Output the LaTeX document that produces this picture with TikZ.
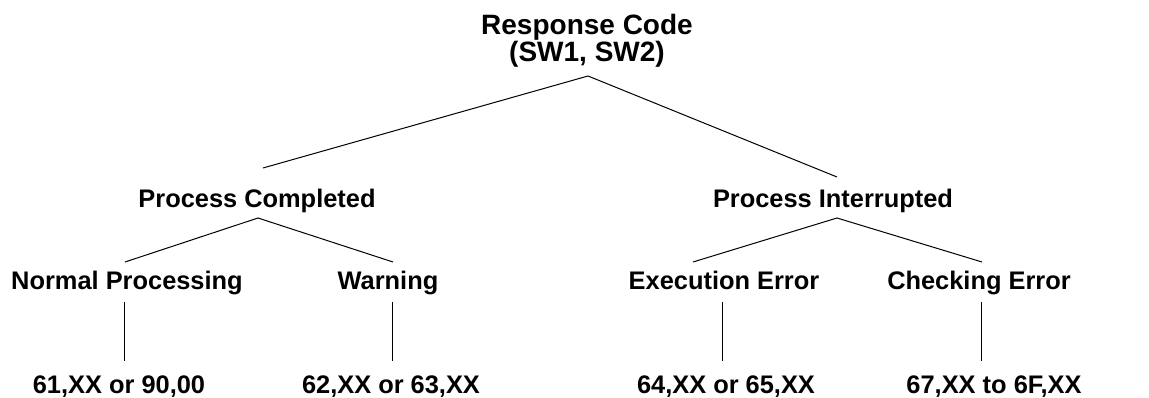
\documentclass[tikz,border=0pt]{standalone}
\usepackage{fontspec}
\setmainfont{Liberation Sans}
\begin{document}
\begin{tikzpicture}[x=1pt,y=-1pt,
  lbl/.style={font=\fontsize{25.4}{25}\selectfont\bfseries, inner sep=0pt, anchor=base},
  toplbl/.style={font=\fontsize{28}{25}\selectfont\bfseries, inner sep=0pt, anchor=base, align=center},
  conn/.style={line width=1pt, black}]
\useasboundingbox (0,0) rectangle (1149,398);
% nodes
\node[toplbl] (root) at (587,62) {Response Code\\(SW1, SW2)};
\node[lbl] (pc) at (257,208) {Process Completed};
\node[lbl] (pi) at (833,208) {Process Interrupted};
\node[lbl] (np) at (127,289) {Normal Processing};
\node[lbl] (wn) at (388,289) {Warning};
\node[lbl] (ee) at (724,289) {Execution Error};
\node[lbl] (ce) at (979,289) {Checking Error};
\node[lbl] (c1) at (119,393) {61,XX or 90,00};
\node[lbl] (c2) at (391,393) {62,XX or 63,XX};
\node[lbl] (c3) at (726,393) {64,XX or 65,XX};
\node[lbl] (c4) at (994,393) {67,XX to 6F,XX};
% attach points
\coordinate (rootB) at (588,76);
\coordinate (pcT) at (263,168);
\coordinate (piT) at (837,177);
\coordinate (pcB) at (258,218);
\coordinate (piB) at (837,218);
\coordinate (npT) at (125,262);
\coordinate (wnT) at (393,262);
\coordinate (eeT) at (693,262);
\coordinate (ceT) at (982,262);
\coordinate (npB) at (124,302);
\coordinate (wnB) at (392,302);
\coordinate (eeB) at (722,302);
\coordinate (ceB) at (981,302);
\coordinate (c1T) at (124,361);
\coordinate (c2T) at (392,361);
\coordinate (c3T) at (722,361);
\coordinate (c4T) at (981,361);
% connectors
\draw[conn] (pcT) -- (rootB) -- (piT);
\draw[conn] (npT) -- (pcB) -- (wnT);
\draw[conn] (eeT) -- (piB) -- (ceT);
\draw[conn] (npB) -- (c1T);
\draw[conn] (wnB) -- (c2T);
\draw[conn] (eeB) -- (c3T);
\draw[conn] (ceB) -- (c4T);
\end{tikzpicture}
\end{document}
